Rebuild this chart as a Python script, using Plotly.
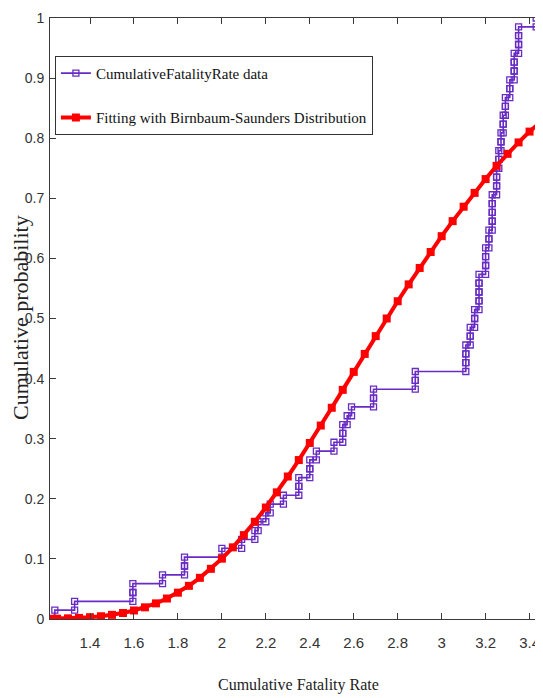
import plotly.graph_objects as go

# ---------------- data ----------------
# sorted cumulative fatality rate samples (ties repeated)
fatality_rate = [1.24, 1.33, 1.595, 1.595, 1.73, 1.83, 1.83, 2.00, 2.09, 2.15,
                 2.165, 2.20, 2.22, 2.28, 2.35, 2.35, 2.40, 2.40, 2.43, 2.51,
                 2.55, 2.55, 2.57, 2.59, 2.69, 2.69, 2.88, 2.88, 3.11, 3.11,
                 3.11, 3.13, 3.13, 3.15, 3.15, 3.17, 3.17, 3.17, 3.17, 3.20,
                 3.20, 3.20, 3.215, 3.215, 3.23, 3.23, 3.23, 3.23, 3.25, 3.25,
                 3.25, 3.26, 3.26, 3.27, 3.27, 3.28, 3.28, 3.29, 3.29, 3.31,
                 3.31, 3.33, 3.33, 3.33, 3.35, 3.35, 3.35, 3.43]
# empirical cumulative probability after each sample
ecdf_prob = [0.0147, 0.0294, 0.0441, 0.0588, 0.0735, 0.0882, 0.1029, 0.1176, 0.1324, 0.1471,
             0.1618, 0.1765, 0.1912, 0.2059, 0.2206, 0.2353, 0.2500, 0.2647, 0.2794, 0.2941,
             0.3088, 0.3235, 0.3382, 0.3529, 0.3676, 0.3824, 0.3971, 0.4118, 0.4265, 0.4412,
             0.4559, 0.4706, 0.4853, 0.5000, 0.5147, 0.5294, 0.5441, 0.5588, 0.5735, 0.5882,
             0.6029, 0.6176, 0.6324, 0.6471, 0.6618, 0.6765, 0.6912, 0.7059, 0.7206, 0.7353,
             0.7500, 0.7647, 0.7794, 0.7941, 0.8088, 0.8235, 0.8382, 0.8529, 0.8676, 0.8824,
             0.8971, 0.9118, 0.9265, 0.9412, 0.9559, 0.9706, 0.9853, 1.0000]

# fitted Birnbaum-Saunders CDF
fit_x = [1.22, 1.25, 1.30, 1.35, 1.40, 1.45, 1.50, 1.55, 1.60, 1.65,
         1.70, 1.75, 1.80, 1.85, 1.90, 1.95, 2.00, 2.05, 2.10, 2.15,
         2.20, 2.25, 2.30, 2.35, 2.40, 2.45, 2.50, 2.55, 2.60, 2.65,
         2.70, 2.75, 2.80, 2.85, 2.90, 2.95, 3.00, 3.05, 3.10, 3.15,
         3.20, 3.25, 3.30, 3.35, 3.40, 3.45]
fit_cdf = [0.0004, 0.0006, 0.0011, 0.0018, 0.0030, 0.0046, 0.0069, 0.0100, 0.0142, 0.0194,
           0.0260, 0.0341, 0.0438, 0.0552, 0.0685, 0.0835, 0.1004, 0.1192, 0.1396, 0.1618,
           0.1855, 0.2107, 0.2371, 0.2645, 0.2929, 0.3219, 0.3515, 0.3813, 0.4112, 0.4411,
           0.4707, 0.5000, 0.5287, 0.5568, 0.5841, 0.6106, 0.6370, 0.6620, 0.6860, 0.7090,
           0.7320, 0.7540, 0.7740, 0.7930, 0.8110, 0.8270]

x_tick_vals = [1.4, 1.6, 1.8, 2.0, 2.2, 2.4, 2.6, 2.8, 3.0, 3.2, 3.4]
x_tick_text = ["1.4", "1.6", "1.8", "2", "2.2", "2.4", "2.6", "2.8", "3", "3.2", "3.4"]
y_tick_vals = [0, 0.1, 0.2, 0.3, 0.4, 0.5, 0.6, 0.7, 0.8, 0.9, 1.0]
y_tick_text = ["0", "0.1", "0.2", "0.3", "0.4", "0.5", "0.6", "0.7", "0.8", "0.9", "1"]

# stairs vertices (bottom and top of every riser)
stair_x, stair_y = [], []
prev = 0.0
for xv, yv in zip(fatality_rate, ecdf_prob):
    stair_x += [xv, xv]
    stair_y += [prev, yv]
    prev = yv

PURPLE = "rgb(104,44,196)"
RED = "rgb(255,0,0)"

fig = go.Figure()
fig.add_trace(go.Scatter(
    x=stair_x, y=stair_y, mode="lines+markers",
    name="CumulativeFatalityRate data", legendgroup="a",
    line=dict(color=PURPLE, width=1.6),
    marker=dict(symbol="square-open", size=6, color=PURPLE, line=dict(width=1.3, color=PURPLE)),
))
fig.add_trace(go.Scatter(
    x=fit_x, y=fit_cdf, mode="lines+markers",
    name="Fitting with Birnbaum-Saunders Distribution", legendgroup="b",
    line=dict(color=RED, width=4),
    marker=dict(symbol="square", size=8, color=RED),
))

axis_common = dict(showgrid=False, zeroline=False, showline=True, linecolor="#3a3a3a",
                   linewidth=1, mirror="ticks", ticks="inside", ticklen=6,
                   tickcolor="#3a3a3a", tickwidth=1)

fig.update_xaxes(range=[1.218, 3.452], tickvals=x_tick_vals, ticktext=x_tick_text,
                 tickfont=dict(family="Liberation Sans", size=15, color="#333"),
                 ticklabelstandoff=10, **axis_common)
fig.update_yaxes(range=[0, 1], tickvals=y_tick_vals, ticktext=y_tick_text,
                 tickfont=dict(family="Liberation Sans", size=14, color="#333"),
                 ticklabelstandoff=2, **axis_common)

# page body has an 8px margin: plot area spans x 42..533, y 10..611 inside the figure
PL, PW, PT, PH = 42, 491, 10, 601
fig.add_annotation(text="Cumulative Fatality Rate", xref="paper", yref="paper",
                   x=(290 - PL) / PW, y=(PT + PH - 677) / PH, xanchor="center", yanchor="middle",
                   showarrow=False, font=dict(family="Liberation Serif", size=16, color="#222"))
fig.add_annotation(text="Cumulative probability", xref="paper", yref="paper",
                   x=(12 - PL) / PW, y=(PT + PH - 310) / PH, xanchor="center", yanchor="middle",
                   textangle=-90, showarrow=False,
                   font=dict(family="Liberation Serif", size=22, color="#222"))

fig.update_layout(
    width=535, height=690,
    margin=dict(l=PL, r=2, t=PT, b=79),
    plot_bgcolor="white", paper_bgcolor="white",
    legend=dict(x=0.01, y=0.937, xanchor="left", yanchor="top",
                bgcolor="white", bordercolor="#333", borderwidth=1,
                font=dict(family="Liberation Serif", size=15, color="#111"),
                tracegroupgap=22),
)

fig.write_html("out.html")
